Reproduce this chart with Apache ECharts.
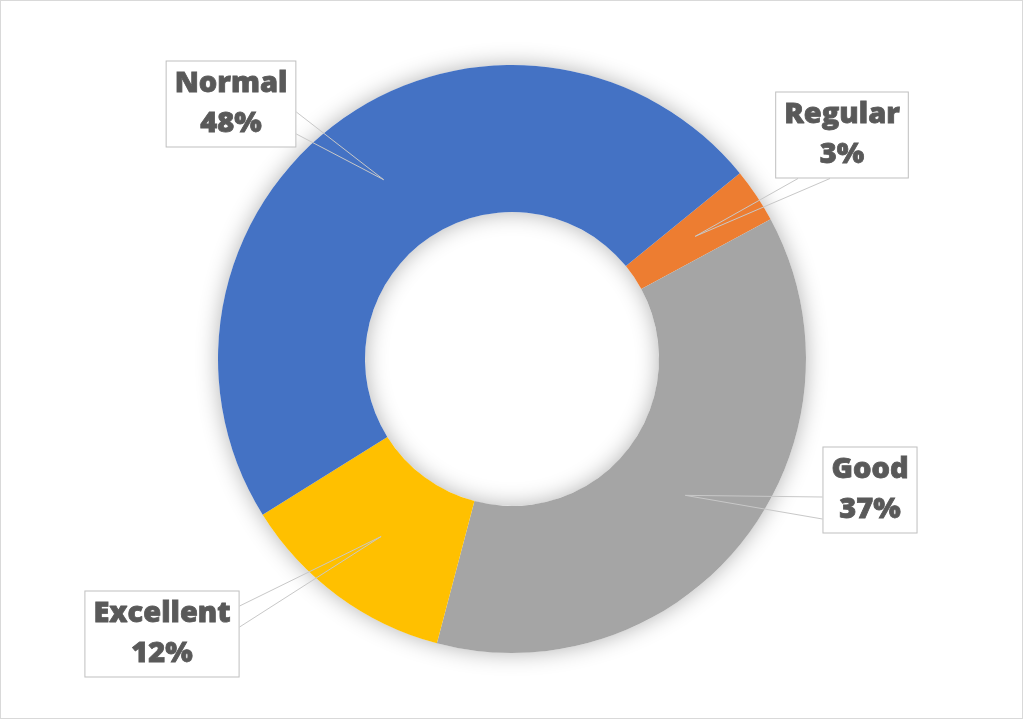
<!DOCTYPE html>
<html>
<head>
<meta charset="utf-8">
<script src="https://cdn.jsdelivr.net/npm/echarts@6/dist/echarts.min.js"></script>
<style>
  html, body { margin: 0; padding: 0; background: #fff; }
  #frame { position: absolute; left: 0; top: 0; width: 1021px; height: 717px; border: 1.5px solid #d9d9d9; box-sizing: content-box; }
  #chart { width: 1021px; height: 717px; }
</style>
</head>
<body>
<div id="frame"><div id="chart"></div></div>
<script>
// ---- data ----
const categories = ['Regular', 'Good', 'Excellent', 'Normal'];
const values = [3, 37, 12, 48];
const colors = ['#ED7D31', '#A5A5A5', '#FFC000', '#4472C4'];

// ---- label layout (callout boxes) ----
const labelCenters = [[841, 134], [869, 489], [161, 633], [230, 103]];
// which box edge the callout wedge leaves from, and offsets along that edge
const wedgeCfg = [
  { side: 'bottom', a: -44, b: -12 },
  { side: 'left', a: 7, b: 29 },
  { side: 'right', a: -28, b: -7 },
  { side: 'right', a: 8, b: 30 }
];

const chart = echarts.init(document.getElementById('chart'));

function tipOf(i) {
  const data = chart.getModel().getSeriesByIndex(2).getData();
  const L = data.getItemLayout(i);
  const mid = (L.startAngle + L.endAngle) / 2;
  const rr = (L.r + L.r0) / 2;
  return [L.cx + rr * Math.cos(mid), L.cy + rr * Math.sin(mid)];
}

const ring = { center: [511, 358], radius: [147, 294], startAngle: 39.2, clockwise: true };
const pieData = categories.map((n, i) => ({ name: n, value: values[i], itemStyle: { color: colors[i] } }));

const option = {
  animation: false,
  backgroundColor: '#ffffff',
  series: [
    {
      type: 'pie',
      silent: true,
      center: ring.center,
      radius: ring.radius,
      z: 1,
      label: { show: false },
      labelLine: { show: false },
      itemStyle: { color: '#ffffff', shadowBlur: 22, shadowColor: 'rgba(0,0,0,0.30)' },
      data: [{ value: 1, name: '' }]
    },
    {
      type: 'pie',
      z: 2,
      silent: true,
      center: ring.center,
      radius: ring.radius,
      startAngle: ring.startAngle,
      clockwise: ring.clockwise,
      itemStyle: { borderWidth: 0 },
      label: { show: false },
      labelLine: { show: false },
      data: pieData
    },
    {
      // transparent overlay that carries the callout labels above the ring
      type: 'pie',
      z: 3,
      silent: true,
      center: ring.center,
      radius: ring.radius,
      startAngle: ring.startAngle,
      clockwise: ring.clockwise,
      avoidLabelOverlap: false,
      itemStyle: { color: 'rgba(0,0,0,0)', borderWidth: 0 },
      label: {
        show: true,
        position: 'outside',
        formatter: p => p.name + '\n' + Math.round(p.percent) + '%',
        fontFamily: 'Open Sans',
        fontWeight: 800,
        fontSize: 29,
        lineHeight: 40,
        color: '#595959',
        textBorderColor: '#595959',
        textBorderWidth: 0.8,
        align: 'center',
        backgroundColor: '#ffffff',
        borderColor: '#bfbfbf',
        borderWidth: 1,
        padding: [5, 8, 0, 8]
      },
      labelLine: {
        show: true,
        lineStyle: { color: '#c8c8c8', width: 1 }
      },
      labelLayout: function (params) {
        const i = params.dataIndex;
        const c = labelCenters[i];
        const w = params.labelRect.width, h = params.labelRect.height;
        const left = c[0] - w / 2, right = c[0] + w / 2, top = c[1] - h / 2, bottom = c[1] + h / 2;
        const cfg = wedgeCfg[i];
        let A, B;
        if (cfg.side === 'right') { A = [right, c[1] + cfg.a]; B = [right, c[1] + cfg.b]; }
        else if (cfg.side === 'left') { A = [left, c[1] + cfg.a]; B = [left, c[1] + cfg.b]; }
        else if (cfg.side === 'bottom') { A = [c[0] + cfg.a, bottom]; B = [c[0] + cfg.b, bottom]; }
        else { A = [c[0] + cfg.a, top]; B = [c[0] + cfg.b, top]; }
        const T = tipOf(i);
        return {
          x: c[0], y: c[1],
          align: 'center', verticalAlign: 'middle',
          labelLinePoints: [A, T, B]
        };
      },
      data: categories.map((n, i) => ({ name: n, value: values[i] }))
    }
  ]
};
chart.setOption(option);
</script>
</body>
</html>
